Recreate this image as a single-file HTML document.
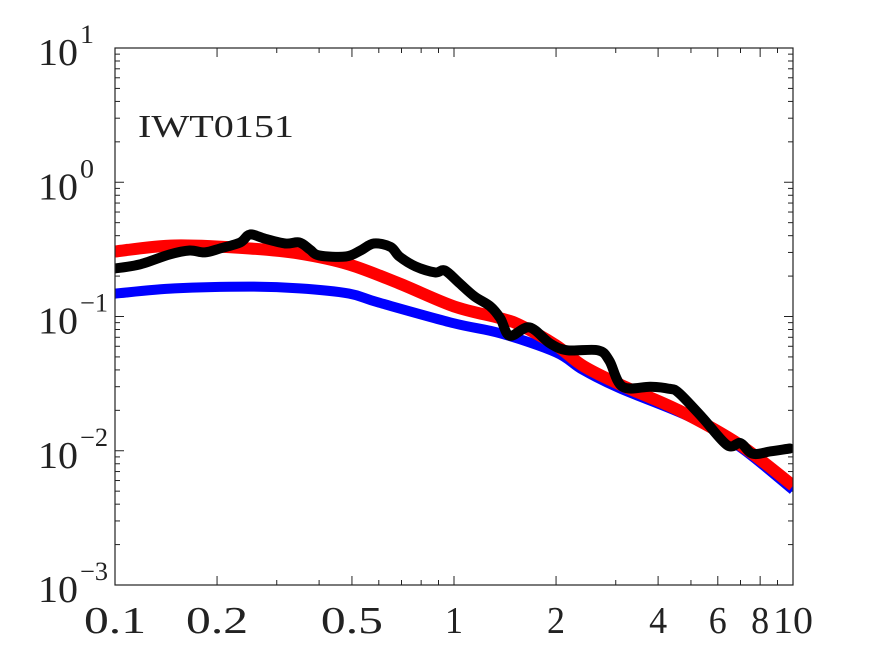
<!DOCTYPE html>
<html><head><meta charset="utf-8"><style>
html,body{margin:0;padding:0;background:#fff;}
svg text{font-family:"Liberation Serif","DejaVu Serif",serif;fill:#222;}
</style></head><body>
<svg id="chart" width="875" height="656" viewBox="0 0 875 656" xmlns="http://www.w3.org/2000/svg">
<rect x="0" y="0" width="875" height="656" fill="#fff"/>
<g id="ticks"></g>
<g id="series"></g>
<rect x="115" y="48" width="678" height="537" fill="none" stroke="#222" stroke-width="1.2"/>
<g id="labels"></g>
<text x="138" y="137" font-size="32" textLength="156" lengthAdjust="spacingAndGlyphs">IWT0151</text>
</svg>
<script>
const redX=[0.1,0.15,0.25,0.35,0.49,0.69,1,1.37,1.57,2.0,2.4,3.1,4.6,7.0,10];
const redY=[0.305,0.338,0.321,0.294,0.244,0.176,0.119,0.097,0.086,0.061,0.043,0.031,0.020,0.011,0.0055];
const blueX=[0.1,0.15,0.25,0.35,0.49,0.6,1,1.37,2.0,2.4,3.1,5.0,7.0,10];
const blueY=[0.148,0.162,0.167,0.162,0.148,0.127,0.089,0.075,0.054,0.040,0.029,0.0177,0.0106,0.0051];
const blackX=[0.1,0.118,0.145,0.166,0.184,0.204,0.234,0.25,0.277,0.318,0.35,0.376,0.40,0.48,0.53,0.58,0.65,0.69,0.77,0.88,0.94,1.04,1.15,1.28,1.37,1.46,1.67,1.92,2.16,2.66,2.87,3.14,3.8,4.3,4.6,5.4,6.4,7.0,7.6,8.6,9.8];
const blackY=[0.228,0.244,0.29,0.31,0.30,0.321,0.356,0.408,0.38,0.35,0.356,0.315,0.285,0.28,0.31,0.35,0.33,0.28,0.236,0.213,0.22,0.176,0.141,0.119,0.097,0.072,0.083,0.063,0.056,0.056,0.047,0.030,0.030,0.029,0.027,0.0177,0.011,0.0114,0.0095,0.0099,0.0104];
const xTickLabels=["0.1","0.2","0.5","1","2","4","6","8","10"];
const xTickVals=[0.1,0.2,0.5,1,2,4,6,8,10];
const yExps=[1,0,-1,-2,-3];

const L=115,R=793,T=48,B=585;
const sx=v=>L+(Math.log10(v)+1)/2*(R-L);
const sy=v=>T+(1-Math.log10(v))/4*(B-T);
const NS="http://www.w3.org/2000/svg";
function mk(tag,attrs,parent){const e=document.createElementNS(NS,tag);for(const k in attrs)e.setAttribute(k,attrs[k]);parent.appendChild(e);return e;}
const tg=document.getElementById('ticks'),sg=document.getElementById('series'),lg=document.getElementById('labels');

for(let d=-1;d<1;d++){for(let m=1;m<=9;m++){const v=m*Math.pow(10,d);const x=sx(v);const major=xTickVals.includes(+v.toPrecision(3));const len=major?9:5;
const t1=mk('line',{x1:x,x2:x,y1:B,y2:B-len,stroke:'#222','stroke-width':1},tg);


const t2=mk('line',{x1:x,x2:x,y1:T,y2:T+len,stroke:'#222','stroke-width':1},tg);

}}
for(let d=-3;d<1;d++){for(let m=1;m<=9;m++){const v=m*Math.pow(10,d);const y=sy(v);const len=m===1?9:5;
const t1=mk('line',{x1:L,x2:L+len,y1:y,y2:y,stroke:'#222','stroke-width':1},tg);


const t2=mk('line',{x1:R,x2:R-len,y1:y,y2:y,stroke:'#222','stroke-width':1},tg);

}}

xTickLabels.forEach((s,i)=>{const t=mk('text',{x:sx(xTickVals[i]),y:633,'font-size':38,'text-anchor':'middle',textLength:s.length*22-4,lengthAdjust:'spacingAndGlyphs'},lg);t.textContent=s;

});
yExps.forEach(e=>{const y=sy(Math.pow(10,e));const t=mk('text',{x:38,y:y+17,'font-size':38,textLength:40,lengthAdjust:'spacingAndGlyphs'},lg);t.textContent='10';


const es=String(e).replace('-','\u2212');
const sup=mk('text',{x:80,y:y-5,'font-size':26,textLength:es.length*14,lengthAdjust:'spacingAndGlyphs'},lg);sup.textContent=es;

});

function path(xs,ys){const p=xs.map((x,i)=>[sx(x),sy(ys[i])]);let d='M'+p[0][0].toFixed(1)+' '+p[0][1].toFixed(1);
for(let i=0;i<p.length-1;i++){const p0=p[i-1]||p[i],p1=p[i],p2=p[i+1],p3=p[i+2]||p2;
const c1=[p1[0]+(p2[0]-p0[0])/6,p1[1]+(p2[1]-p0[1])/6],c2=[p2[0]-(p3[0]-p1[0])/6,p2[1]-(p3[1]-p1[1])/6];
d+=' C'+c1.map(v=>v.toFixed(1)).join(' ')+' '+c2.map(v=>v.toFixed(1)).join(' ')+' '+p2[0].toFixed(1)+' '+p2[1].toFixed(1);}
return d;}
const defs=mk('defs',{},sg);const cp=mk('clipPath',{id:'clip'},defs);mk('rect',{x:L,y:T,width:R-L,height:B-T},cp);
const pb=mk('path',{d:path(blueX,blueY),fill:'none',stroke:'#0000ff','stroke-width':10,'stroke-linejoin':'round','clip-path':'url(#clip)'},sg);


const pr=mk('path',{d:path(redX,redY),fill:'none',stroke:'#ff0000','stroke-width':12,'stroke-linejoin':'round','clip-path':'url(#clip)'},sg);


const pk=mk('path',{d:path(blackX,blackY),fill:'none',stroke:'#000','stroke-width':10,'stroke-linejoin':'round','stroke-linecap':'round','clip-path':'url(#clip)'},sg);


</script>
</body></html>
